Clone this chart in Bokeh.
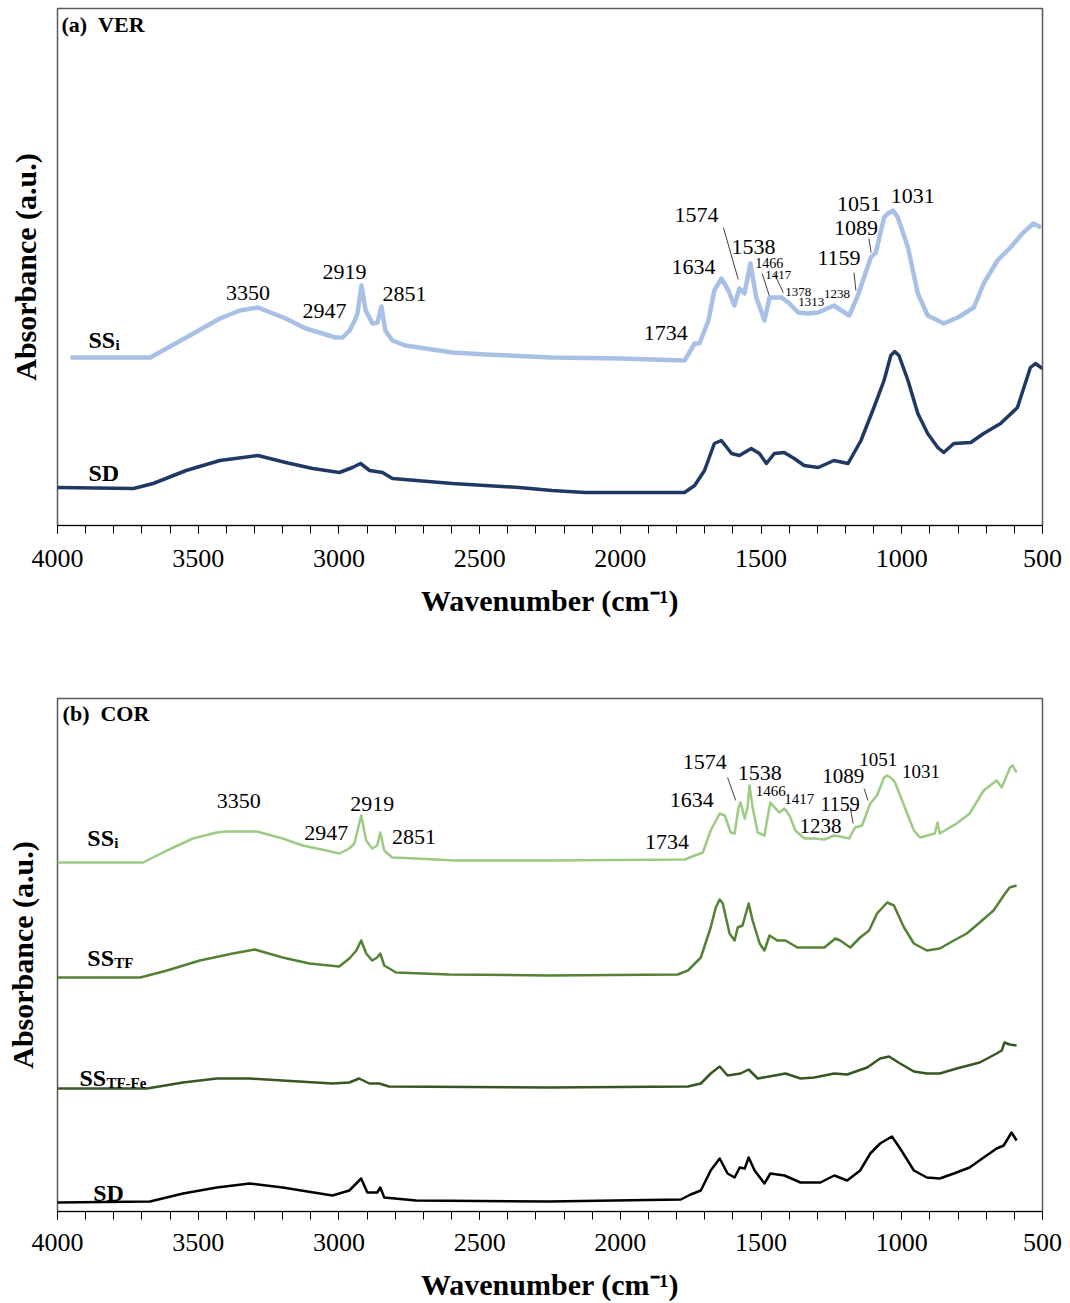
from bokeh.plotting import figure
from bokeh.models import Range1d, SingleIntervalTicker, FixedTicker, Label
from bokeh.layouts import column
from bokeh.embed import file_html
from bokeh.resources import INLINE

# ---------------- data (absorbance in arbitrary units, offset per trace) ----------------
# Panel (a) VER
VER_SSI_WN = [3954, 3670, 3543, 3423, 3352, 3288, 3189, 3118, 3012, 2987, 2962, 2944, 2934, 2920,
              2905, 2881, 2863, 2849, 2835, 2810, 2764, 2597, 2480, 2243, 2000, 1772, 1736, 1719,
              1687, 1666, 1641, 1616, 1595, 1577, 1559, 1538, 1517, 1488, 1470, 1428, 1403, 1368,
              1333, 1297, 1241, 1187, 1156, 1110, 1092, 1063, 1049, 1031, 1014, 978, 943, 908,
              886, 851, 801, 744, 709, 660, 614, 568, 532, 505]
VER_SSI_AB = [168, 168, 188, 207, 215, 218, 207, 197, 188, 188, 195, 205, 212, 240,
              215, 202, 203, 219, 195, 185, 180, 173, 171, 168, 167, 165, 182, 182,
              205, 235, 247, 235, 220, 237, 232, 262, 228, 205, 228, 228, 223, 213,
              212, 213, 220, 210, 230, 268, 273, 308, 312, 315, 308, 278, 232, 210,
              207, 202, 208, 218, 242, 265, 278, 293, 302, 298]

VER_SD_WN = [4000, 3730, 3660, 3543, 3423, 3288, 3189, 3093, 2998, 2952, 2923, 2891, 2845, 2810,
             2597, 2360, 2243, 2126, 1772, 1736, 1701, 1666, 1641, 1605, 1577, 1535, 1506, 1481,
             1453, 1418, 1382, 1347, 1297, 1241, 1191, 1145, 1099, 1063, 1039, 1025, 1010, 978, 943,
             908, 872, 851, 815, 755, 709, 649, 589, 543, 525, 500]
VER_SD_AB = [38, 37, 42, 55, 65, 70, 63, 57, 53, 58, 62, 55, 53, 47,
             42, 38, 35, 33, 33, 40, 55, 82, 85, 72, 70, 77, 72, 62,
             72, 73, 67, 60, 58, 65, 62, 85, 118, 145, 170, 174, 170, 145, 112,
             92, 78, 73, 82, 83, 92, 102, 118, 158, 162, 157]

# Panel (b) COR
COR_SSI_WN = [4000, 3696, 3611, 3519, 3434, 3398, 3292, 3200, 3129, 3045, 2999, 2963, 2945, 2921,
              2903, 2882, 2864, 2853, 2839, 2811, 2726, 2585, 2255, 1771, 1735, 1707, 1679, 1647,
              1629, 1608, 1594, 1580, 1573, 1558, 1548, 1541, 1530, 1512, 1488, 1477, 1467, 1452,
              1435, 1417, 1399, 1378, 1346, 1311, 1275, 1240, 1219, 1187, 1166, 1141, 1112, 1088,
              1063, 1052, 1035, 1024, 992, 957, 935, 883, 873, 865, 805, 759, 709, 663, 645, 615,
              606, 592]
COR_SSI_AB = [349, 349, 361, 373, 379, 380, 380, 373, 366, 361, 358, 363, 368, 396,
              371, 363, 366, 379, 361, 354, 353, 351, 351, 352, 356, 359, 381, 398,
              396, 379, 378, 404, 409, 393, 404, 426, 404, 379, 376, 394, 409, 404,
              399, 403, 396, 381, 373, 373, 372, 376, 375, 373, 384, 386, 408, 416,
              434, 436, 433, 429, 406, 381, 374, 378, 389, 378, 388, 398, 421, 431, 424, 444,
              446, 439]

COR_SSTF_WN = [4000, 3706, 3611, 3494, 3377, 3299, 3200, 3105, 2999, 2963, 2938, 2921, 2903, 2882,
               2864, 2853, 2839, 2797, 2609, 2255, 1796, 1760, 1714, 1679, 1661, 1647, 1636, 1612,
               1594, 1583, 1566, 1544, 1530, 1505, 1488, 1470, 1442, 1413, 1371, 1311, 1275, 1236,
               1219, 1183, 1148, 1116, 1088, 1052, 1028, 992, 957, 911, 865, 815, 769, 723, 674,
               638, 617, 592]
COR_SSTF_AB = [234, 234, 241, 251, 258, 262, 254, 248, 245, 253, 261, 271, 258, 251,
               254, 258, 246, 239, 237, 236, 237, 241, 254, 284, 304, 312, 308, 278,
               271, 284, 286, 308, 291, 268, 261, 276, 271, 271, 264, 264, 264, 273,
               271, 264, 274, 281, 298, 309, 306, 284, 268, 261, 263, 271, 278, 289, 301,
               316, 324, 326]

COR_SSTFFE_WN = [4000, 3682, 3554, 3434, 3317, 3200, 3023, 2963, 2928, 2892, 2857, 2822, 2255, 1760,
                 1714, 1679, 1647, 1619, 1573, 1544, 1512, 1452, 1413, 1360, 1311, 1240, 1194, 1123,
                 1077, 1045, 1006, 957, 911, 865, 805, 723, 663, 645, 635, 617, 592]
COR_SSTFFE_AB = [123, 123, 129, 133, 133, 131, 128, 129, 133, 128, 128, 125, 124, 125,
                 128, 138, 145, 136, 138, 142, 133, 136, 138, 133, 134, 138, 137, 144,
                 153, 155, 148, 140, 138, 138, 143, 149, 158, 161, 169, 167, 166]

COR_SD_WN = [4000, 3671, 3554, 3434, 3317, 3200, 3023, 2963, 2921, 2899, 2864, 2853, 2839, 2726,
             2255, 1785, 1750, 1714, 1679, 1647, 1619, 1594, 1576, 1558, 1544, 1523, 1488, 1467,
             1417, 1360, 1289, 1240, 1194, 1148, 1112, 1077, 1035, 1006, 957, 911, 865, 815,
             759, 709, 663, 638, 627, 610, 592]
COR_SD_AB = [9, 10, 18, 24, 28, 24, 16, 21, 33, 19, 19, 24, 14, 11,
             10, 12, 17, 21, 41, 53, 38, 34, 44, 43, 54, 41, 28, 38,
             36, 29, 29, 36, 31, 41, 58, 68, 75, 63, 41, 34, 33, 38,
             44, 54, 63, 66, 71, 79, 71]

# Peak annotations: text, label position (wavenumber, a.u.), font size
VER_PEAKS = ["3350", "2947", "2919", "2851", "1574", "1634", "1538", "1734", "1466", "1417",
             "1378", "1313", "1238", "1159", "1089", "1051", "1031"]
VER_PEAK_POS = [(3323, 233), (3051, 215), (2980, 254), (2767, 232), (1729, 311), (1740, 259),
                (1527, 279), (1839, 193), (1471, 263), (1439, 251), (1368, 234), (1322, 224),
                (1230, 232), (1223, 268), (1163, 298), (1152, 322), (961, 330)]
VER_PEAK_SIZE = [22, 22, 22, 22, 22, 22, 22, 22, 14, 13, 13, 13, 13, 22, 22, 22, 22]
VER_LEADERS = [(1634, 298, 1581, 246), (1496, 252, 1471, 230), (1453, 252, 1421, 233),
               (1170, 253, 1163, 235), (1117, 287, 1109, 273)]

COR_PEAKS = ["3350", "2919", "2947", "2851", "1574", "1538", "1634", "1734", "1466", "1417",
             "1159", "1238", "1089", "1051", "1031"]
COR_PEAK_POS = [(3356, 411), (2882, 408), (3045, 379), (2733, 375), (1700, 450), (1505, 439),
                (1746, 412), (1834, 370), (1466, 421), (1364, 413), (1219, 408), (1289, 386),
                (1208, 436), (1084, 452), (932, 440)]
COR_PEAK_SIZE = [22, 22, 22, 22, 22, 22, 22, 22, 15, 15, 20, 21, 21, 19, 19]
COR_LEADERS = [(1619, 434, 1590, 411), (1183, 404, 1173, 388), (1134, 423, 1120, 411)]

SERIF = "Liberation Serif"
NB = "\u00a0"


def make_panel(width, height, bl, br, bt, bb, ymax, tick_standoff, xlabel_standoff, ylabel_standoff):
    p = figure(width=width, height=height, x_range=Range1d(4000, 500), y_range=Range1d(0, ymax),
               output_backend="svg", toolbar_location=None,
               min_border_left=bl, min_border_right=br, min_border_top=bt, min_border_bottom=bb)
    p.xgrid.visible = False
    p.ygrid.visible = False
    p.outline_line_color = "#5a5a5a"
    p.outline_line_width = 1.5
    xa = p.xaxis[0]
    xa.ticker = SingleIntervalTicker(interval=500, num_minor_ticks=5)
    xa.major_tick_out = 8
    xa.minor_tick_out = 8
    xa.major_tick_in = 0
    xa.minor_tick_in = 0
    xa.major_tick_line_color = "black"
    xa.minor_tick_line_color = "black"
    xa.axis_line_color = "black"
    xa.major_label_text_font = SERIF
    xa.major_label_text_font_size = "26px"
    xa.major_label_text_color = "black"
    xa.major_label_standoff = tick_standoff
    xa.axis_label = "Wavenumber (cm\u207b\u00b9)"
    xa.axis_label_text_font = SERIF
    xa.axis_label_text_font_style = "bold"
    xa.axis_label_text_font_size = "30px"
    xa.axis_label_text_color = "black"
    xa.axis_label_standoff = xlabel_standoff
    ya = p.yaxis[0]
    ya.ticker = FixedTicker(ticks=[])
    ya.major_label_text_font_size = "0px"
    ya.axis_line_color = None
    ya.major_tick_line_color = None
    ya.minor_tick_line_color = None
    ya.axis_label = "Absorbance (a.u.)"
    ya.axis_label_text_font = SERIF
    ya.axis_label_text_font_style = "bold"
    ya.axis_label_text_font_size = "30px"
    ya.axis_label_text_color = "black"
    ya.axis_label_standoff = ylabel_standoff
    return p


def add_text(p, x, y, text, size, bold=False, align="center", baseline="middle", dx=0, dy=0):
    p.add_layout(Label(x=x, y=y, text=text, text_font=SERIF, text_font_size=f"{size}px",
                       text_font_style="bold" if bold else "normal", text_color="black",
                       text_align=align, text_baseline=baseline, x_offset=dx, y_offset=dy))


def add_series_label(p, x, y, main, sub):
    add_text(p, x, y, main, 24, bold=True, align="left", baseline="alphabetic")
    if sub:
        add_text(p, x, y, sub, 15, bold=True, align="left", baseline="alphabetic", dx=27, dy=-5)


# ---------------- panel (a) ----------------
pa = make_panel(1070, 650, 54, 28, 8, 125, 517, 16, 14, 16)
pa.line(VER_SSI_WN, VER_SSI_AB, line_color="#a8c0e5", line_width=4.5, line_join="round")
pa.line(VER_SD_WN, VER_SD_AB, line_color="#1f3864", line_width=3.5, line_join="round")
for t, (x, y), s in zip(VER_PEAKS, VER_PEAK_POS, VER_PEAK_SIZE):
    add_text(pa, x, y, t, s)
pa.segment([l[0] for l in VER_LEADERS], [l[1] for l in VER_LEADERS],
           [l[2] for l in VER_LEADERS], [l[3] for l in VER_LEADERS],
           line_color="#404040", line_width=1)
add_text(pa, 3986, 501, "(a)" + NB + NB + "VER", 22, bold=True, align="left")
add_series_label(pa, 3890, 186, "SS", "i")
add_series_label(pa, 3890, 53, "SD", "")

# ---------------- panel (b) ----------------
pb = make_panel(1070, 653, 57, 24, 48, 92, 513, 14, 14, 19)
pb.line(COR_SSI_WN, COR_SSI_AB, line_color="#9ccb84", line_width=2.5, line_join="round")
pb.line(COR_SSTF_WN, COR_SSTF_AB, line_color="#548235", line_width=2.5, line_join="round")
pb.line(COR_SSTFFE_WN, COR_SSTFFE_AB, line_color="#375623", line_width=2.5, line_join="round")
pb.line(COR_SD_WN, COR_SD_AB, line_color="#000000", line_width=2.5, line_join="round")
for t, (x, y), s in zip(COR_PEAKS, COR_PEAK_POS, COR_PEAK_SIZE):
    add_text(pb, x, y, t, s)
pb.segment([l[0] for l in COR_LEADERS], [l[1] for l in COR_LEADERS],
           [l[2] for l in COR_LEADERS], [l[3] for l in COR_LEADERS],
           line_color="#404040", line_width=1)
add_text(pb, 3982, 498, "(b)" + NB + NB + "COR", 22, bold=True, align="left")
add_series_label(pb, 3894, 374, "SS", "i")
add_series_label(pb, 3894, 254, "SS", "TF")
add_series_label(pb, 3922, 134, "SS", "TF-Fe")
add_series_label(pb, 3873, 19, "SD", "")

layout = column(pa, pb)
open("out.html", "w").write(file_html(layout, INLINE))
